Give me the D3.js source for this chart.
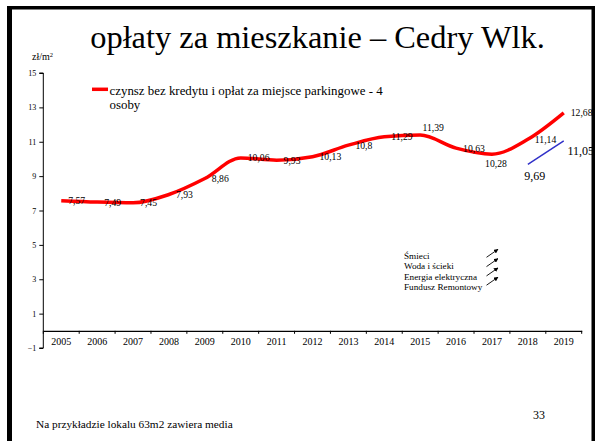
<!DOCTYPE html>
<html>
<head>
<meta charset="utf-8">
<script src="https://cdn.jsdelivr.net/npm/d3@7"></script>
<style>
  html, body { margin: 0; padding: 0; background: #fff; }
  svg { display: block; }
  svg text { font-family: 'Liberation Serif', 'Times New Roman', serif; }
</style>
</head>
<body>
<svg id="chart" width="599" height="441"></svg>
<script>
const years = ["2005","2006","2007","2008","2009","2010","2011","2012","2013","2014","2015","2016","2017","2018","2019"];
const rentValues = [7.57, 7.49, 7.45, 7.93, 8.86, 10.06, 9.93, 10.13, 10.8, 11.29, 11.39, 10.63, 10.28, 11.14, 12.68];
const blueYears = ["2018", "2019"];
const blueValues = [9.69, 11.05];
const yTicks = [-1, 1, 3, 5, 7, 9, 11, 13, 15];
const rentLabelPlacement = ["right","right","right","right","right","right","right","right","right","right","above","right","below","right","right"];
const blueLabelPlacement = ["below","belowRight"];
const title = "opłaty za mieszkanie – Cedry Wlk.";
const legendLines = ["czynsz bez kredytu i opłat za miejsce parkingowe - 4", "osoby"];
const noteItems = ["Śmieci", "Woda i ścieki", "Energia elektryczna", "Fundusz Remontowy"];
const footer = "Na przykładzie lokalu 63m2 zawiera media";
const pageNumber = "33";

const svg = d3.select("#chart");

// frame
svg.append("rect").attr("x", 7).attr("y", 6).attr("width", 5).attr("height", 441).attr("fill", "#000");
svg.append("rect").attr("x", 7).attr("y", 6).attr("width", 588).attr("height", 3.5).attr("fill", "#000");
svg.append("rect").attr("x", 591.5).attr("y", 6).attr("width", 3.5).attr("height", 441).attr("fill", "#000");

// title
svg.append("text").attr("x", 317.5).attr("y", 48).attr("text-anchor", "middle")
  .attr("font-size", 32.4).attr("fill", "#000").text(title);

const x = d3.scaleBand().domain(years).range([43.3, 581.7]).paddingInner(0).paddingOuter(0);
const y = d3.scaleLinear().domain([-1, 15]).range([348, 73]);
const cx = d => x(d) + x.bandwidth() / 2;

// y axis
const yAxis = d3.axisLeft(y).tickValues(yTicks).tickSize(4).tickFormat(d3.format("d"));
const gy = svg.append("g").attr("transform", `translate(${x.range()[0]},0)`).call(yAxis);
gy.attr("font-family", null);
gy.select(".domain").attr("stroke", "#000").attr("stroke-width", 1).attr("d", `M-4,${y(15)}H0V${y(-1)}H-4`);
gy.selectAll(".tick line").attr("stroke", "#000");
gy.selectAll(".tick text").attr("font-size", 8).attr("fill", "#000").attr("x", -7);

// x axis at zero
const xAxis = d3.axisBottom(x).tickSize(3).tickSizeOuter(0).tickFormat(d => d);
const gx = svg.append("g").attr("transform", `translate(0,${y(0)})`).call(xAxis);
gx.attr("font-family", null);
gx.select(".domain").attr("stroke", "#000").attr("stroke-width", 1.2);
gx.selectAll(".tick line").attr("stroke", "#000").attr("transform", `translate(${x.bandwidth()/2},0)`);
gx.selectAll(".tick text").attr("font-size", 10).attr("fill", "#000").attr("y", 7.5);
gx.append("line").attr("x1", x.range()[0]).attr("x2", x.range()[0]).attr("y1", 0).attr("y2", 3).attr("stroke", "#000");

// unit label
const unit = svg.append("text").attr("x", 32).attr("y", 60).attr("font-size", 10).attr("fill", "#000");
unit.append("tspan").text("zł/m");
unit.append("tspan").attr("font-size", 6.5).attr("dy", -3.5).text("2");

// lines
const line = d3.line().x(d => cx(d[0])).y(d => y(d[1])).curve(d3.curveMonotoneX);
const rentData = years.map((yr, i) => [yr, rentValues[i]]);
const blueData = blueYears.map((yr, i) => [yr, blueValues[i]]);

svg.append("path").datum(rentData).attr("d", line).attr("fill", "none")
  .attr("stroke", "#ff0000").attr("stroke-width", 3.5).attr("stroke-linejoin", "round");
svg.append("path").datum(blueData).attr("d", line).attr("fill", "none")
  .attr("stroke", "#3030c8").attr("stroke-width", 1.5);

// data labels
svg.append("g").selectAll("text").data(rentData).join("text")
  .attr("font-size", 9.7).attr("fill", "#000")
  .attr("x", (d, i) => {
    const p = rentLabelPlacement[i];
    return p === "right" ? cx(d[0]) + 7 : p === "above" ? cx(d[0]) + 13 : cx(d[0]) + 4;
  })
  .attr("y", (d, i) => {
    const p = rentLabelPlacement[i];
    return p === "right" ? y(d[1]) + 3.5 : p === "above" ? y(d[1]) - 4.5 : y(d[1]) + 12.5;
  })
  .attr("text-anchor", (d, i) => rentLabelPlacement[i] === "right" ? "start" : "middle")
  .text(d => String(d[1]).replace(".", ","));

svg.append("g").selectAll("text").data(blueData).join("text")
  .attr("font-size", 12).attr("fill", "#000")
  .attr("x", (d, i) => blueLabelPlacement[i] === "below" ? cx(d[0]) + 7 : cx(d[0]) + 17)
  .attr("y", (d, i) => blueLabelPlacement[i] === "below" ? y(d[1]) + 15.5 : y(d[1]) + 14.5)
  .attr("text-anchor", "middle")
  .text(d => String(d[1]).replace(".", ","));

// legend
svg.append("line").attr("x1", 92).attr("x2", 108).attr("y1", 89.3).attr("y2", 89.3)
  .attr("stroke", "#ff0000").attr("stroke-width", 3.5);
const leg = svg.append("text").attr("font-size", 12.9).attr("fill", "#000");
legendLines.forEach((t, i) => leg.append("tspan").attr("x", 109.5).attr("y", 95 + i * 14.2).text(t));

// note
svg.append("g").selectAll("text").data(noteItems).join("text")
  .attr("x", 404).attr("y", (d, i) => 259 + i * 10.3)
  .attr("font-size", 9.2).attr("fill", "#000").text(d => d);

const defs = svg.append("defs");
defs.append("marker").attr("id", "arr").attr("viewBox", "0 0 10 10").attr("refX", 9).attr("refY", 5)
  .attr("markerWidth", 5).attr("markerHeight", 5).attr("orient", "auto")
  .append("path").attr("d", "M0,0L10,5L0,10z").attr("fill", "#000");
svg.append("g").selectAll("line").data(noteItems).join("line")
  .attr("x1", 486.5).attr("x2", 498).attr("y1", (d, i) => 257.3 + i * 9.3).attr("y2", (d, i) => 249.3 + i * 9.3)
  .attr("stroke", "#000").attr("stroke-width", 0.9).attr("marker-end", "url(#arr)");

// footer
svg.append("text").attr("x", 36).attr("y", 428).attr("font-size", 11.3).attr("fill", "#000").text(footer);
svg.append("text").attr("x", 533).attr("y", 419).attr("font-size", 12).attr("fill", "#000").text(pageNumber);
</script>
</body>
</html>
